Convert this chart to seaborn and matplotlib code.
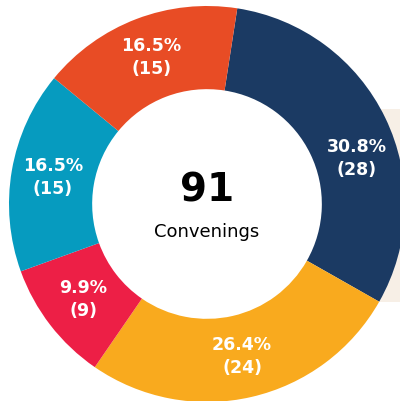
import numpy as np
import matplotlib.pyplot as plt
import seaborn as sns
from matplotlib.patches import Rectangle

# Convenings by group (counts)
counts = [28, 24, 9, 15, 15]
colors = ["#1b3a63", "#f9aa1e", "#ed1f46", "#069bbf", "#e84c25"]
total = sum(counts)
center_number = str(total)
center_label = "Convenings"

sns.set_theme(style="white")
plt.rcParams['font.family'] = ['DejaVu Sans']

fig = plt.figure(figsize=(4, 4.01), dpi=100)
fig.patch.set_facecolor("white")

ax = fig.add_axes([0, 0, 1, 1])
ax.patch.set_alpha(0)
ax.set_zorder(2)

# light beige panel peeking out on the right, behind the donut
bg = fig.add_axes([0.9, 0.247, 0.1, 0.481])
bg.set_zorder(1)
bg.set_facecolor("#f7efe6")
bg.set_xticks([])
bg.set_yticks([])
for s in bg.spines.values():
    s.set_visible(False)

start = 81.2
wedges, _ = ax.pie(counts, colors=colors, startangle=start, counterclock=False,
                   radius=1.0, wedgeprops=dict(width=0.42, linewidth=0))

# labels
angle_shift = [-9, 0, 0, 0, 0]
label_r = [0.79, 0.79, 0.79, 0.79, 0.79]
for w, c, sh, r in zip(wedges, counts, angle_shift, label_r):
    mid = np.deg2rad((w.theta1 + w.theta2) / 2 + sh)
    ax.text(r * np.cos(mid), r * np.sin(mid), f"{c / total * 100:.1f}%\n({c})",
            ha="center", va="center", color="white", fontsize=12.5,
            fontweight="bold", linespacing=1.35)

ax.text(0, 0.011, center_number, ha="center", va="baseline", fontsize=28,
        fontweight="bold", color="black")
ax.text(0, -0.167, center_label, ha="center", va="baseline", fontsize=13,
        color="black")

ax.set_xlim(-207 / 198, 193 / 198)
ax.set_ylim(-197 / 198, 204 / 198)
ax.set_aspect("auto")
ax.axis("off")

fig.savefig("out.png", dpi=100)
